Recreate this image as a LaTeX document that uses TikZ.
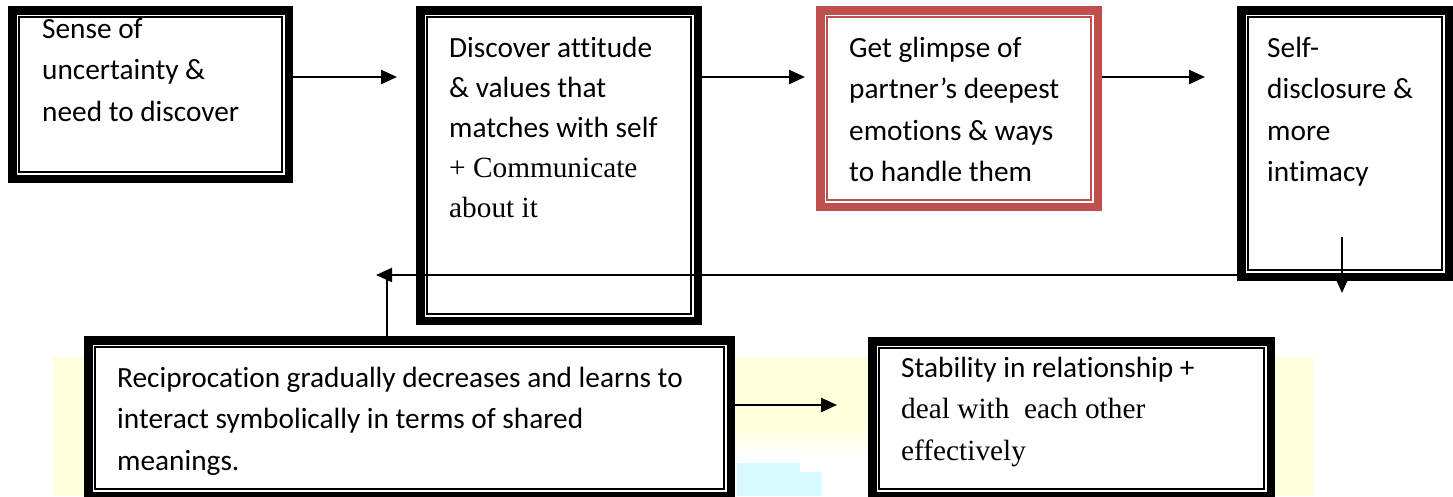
\documentclass[tikz,border=0pt]{standalone}
\usepackage{fontspec}
\setmainfont{Carlito}[Ligatures=NoCommon]
\newfontfamily\timesf{Liberation Serif}
\usetikzlibrary{arrows.meta}
\definecolor{boxred}{RGB}{192,80,77}
\definecolor{bgyellow}{RGB}{255,255,219}
\definecolor{bgcyan}{RGB}{214,250,255}
\newcommand{\tlines}[1]{\begin{tabular}[t]{@{}l@{}}#1\end{tabular}}
\tikzset{
  frame/.style={draw=black, line width=8.5pt, fill=white, inner sep=0pt, outer sep=4.25pt},
  redframe/.style={frame, draw=boxred},
  thinframe/.style={draw=black, line width=1.8pt},
  redthin/.style={thinframe, draw=boxred},
  txt/.style={anchor=base west, inner sep=0pt, font=\fontsize{29.3}{41.5}\selectfont},
  arr/.style={line width=2.6pt, -{Triangle[length=16pt,width=14pt]}},
  plain/.style={line width=2.2pt},
}
\begin{document}
\begin{tikzpicture}[x=1pt,y=-1pt]
\useasboundingbox (0,0) rectangle (1453,496);
\clip (0,0) rectangle (1453,496);
% background
\fill[bgyellow] (53,357) rectangle (1313,496);
\shade[top color=bgyellow, bottom color=white] (735,425) rectangle (868,455);
\fill[white] (735,455) rectangle (868,496);
\fill[bgcyan] (737,463) rectangle (800,496);
\fill[bgcyan] (800,472) rectangle (822,496);
% boxes (outer edges)
\node[frame, minimum width=276.5pt, minimum height=168.5pt] (B1) at (150.5,94.5) {};
\node[frame, minimum width=277.5pt, minimum height=310.5pt] (B2) at (559,165.5) {};
\node[redframe, minimum width=277.5pt, minimum height=196.5pt] (B3) at (959,108.5) {};
\node[frame, minimum width=207.5pt, minimum height=266.5pt] (B4) at (1345,143.5) {};
\node[frame, minimum width=642.5pt, minimum height=155.5pt] (B5) at (409.5,418) {};
\node[frame, minimum width=398.5pt, minimum height=154.5pt] (B6) at (1071.5,418.5) {};
\foreach \b in {B1,B2,B4,B5,B6}
  \draw[thinframe] ([shift={(11.3,11.3)}]\b.north west) rectangle ([shift={(-11.3,-11.3)}]\b.south east);
\draw[redthin] ([shift={(11.3,11.3)}]B3.north west) rectangle ([shift={(-11.3,-11.3)}]B3.south east);
% texts
\node[txt] (T1) at (42,38) {\tlines{Sense of\\uncertainty \&\\need to discover}};
\node[txt, font=\fontsize{29.3}{40}\selectfont] (T2) at (449,57) {\tlines{Discover attitude\\\& values that\\matches with self\\{\timesf + Communicate}\\{\timesf about it}}};
\node[txt] (T3) at (849,57) {\tlines{Get glimpse of\\partner’s deepest\\emotions \& ways\\to handle them}};
\node[txt] (T4) at (1267,57) {\tlines{Self-\\disclosure \&\\more\\intimacy}};
\node[txt] (T5) at (117,387) {\tlines{Reciprocation gradually decreases and learns to\\interact symbolically in terms of shared\\meanings.}};
\node[txt] (T6) at (901,377) {\tlines{Stability in relationship +\\{\timesf deal with \ each other}\\{\timesf effectively}}};
% connectors
\coordinate (t1) at (397,77);
\coordinate (t2) at (805,77);
\coordinate (t3) at (1205,77);
\coordinate (d0) at (1342,237);
\coordinate (d1) at (1342,293);
\coordinate (r1) at (376,275);
\coordinate (r2) at (387,276);
\coordinate (t5) at (837,405);
\draw[arr] (B1.east |- t1) -- (t1);
\draw[arr] (B2.east |- t2) -- (t2);
\draw[arr] (B3.east |- t3) -- (t3);
\draw[arr, line width=2.2pt, -{Triangle[length=13pt,width=11pt]}] (d0) -- (d1);
\draw[arr, line width=2.2pt] (B4.west |- r1) -- (r1);
\draw[plain] (B5.north -| r2) -- (r2);
\draw[arr] ([xshift=-8pt]B5.east |- t5) -- (t5);
\end{tikzpicture}
\end{document}
